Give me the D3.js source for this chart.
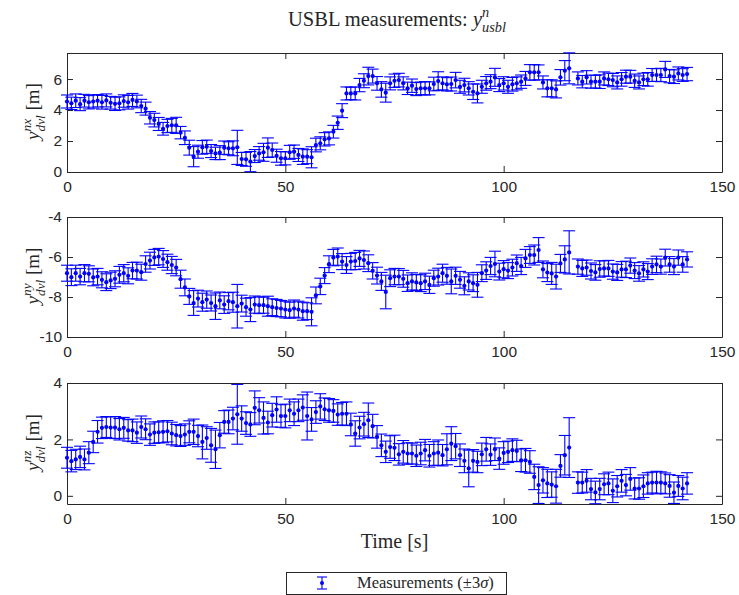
<!DOCTYPE html>
<html>
<head>
<meta charset="utf-8">
<script src="https://cdn.jsdelivr.net/npm/d3@7"></script>
<style>
body { margin: 0; background: #fff; }
svg { display: block; }
.tick text { font-family: "Liberation Sans", Arial, sans-serif; font-size: 15.5px; fill: #262626; }
.domain, .tick line { stroke: #262626; }
</style>
</head>
<body>
<svg id="chart" width="739" height="595"></svg>
<script>
// sample times [s] (no sample at 116 s)
var times = [
	0, 1, 2, 3, 4, 5, 6, 7, 8, 9, 10, 11, 12, 13, 14, 15, 16, 17, 18, 19,
	20, 21, 22, 23, 24, 25, 26, 27, 28, 29, 30, 31, 32, 33, 34, 35, 36, 37, 38, 39,
	40, 41, 42, 43, 44, 45, 46, 47, 48, 49, 50, 51, 52, 53, 54, 55, 56, 57, 58, 59,
	60, 61, 62, 63, 64, 65, 66, 67, 68, 69, 70, 71, 72, 73, 74, 75, 76, 77, 78, 79,
	80, 81, 82, 83, 84, 85, 86, 87, 88, 89, 90, 91, 92, 93, 94, 95, 96, 97, 98, 99,
	100, 101, 102, 103, 104, 105, 106, 107, 108, 109, 110, 111, 112, 113, 114, 115,
	117, 118, 119, 120, 121, 122, 123, 124, 125, 126, 127, 128, 129, 130, 131, 132,
	133, 134, 135, 136, 137, 138, 139, 140, 141, 142
];

var posNx = [
	4.55, 4.43, 4.60, 4.38, 4.60, 4.50, 4.55, 4.60, 4.50, 4.62,
	4.47, 4.40, 4.43, 4.58, 4.50, 4.65, 4.55, 4.26, 4.09, 3.50,
	3.35, 3.10, 2.79, 2.97, 3.01, 3.01, 2.54, 2.21, 1.57, 0.99,
	1.31, 1.59, 1.63, 1.35, 1.20, 1.25, 1.57, 1.53, 1.53, 1.59,
	0.84, 0.82, 0.67, 1.03, 1.20, 1.27, 1.57, 1.42, 1.05, 0.88,
	0.88, 1.27, 1.31, 1.10, 0.99, 0.99, 0.95, 1.74, 1.85, 2.11,
	2.17, 2.60, 3.18, 3.96, 5.07, 5.07, 5.07, 5.61, 5.89, 6.19,
	6.19, 5.72, 5.33, 5.12, 5.72, 5.89, 5.93, 5.72, 5.40, 5.57,
	5.35, 5.40, 5.40, 5.40, 5.68, 5.87, 5.72, 5.66, 5.68, 5.93,
	5.50, 5.61, 5.40, 5.18, 5.07, 5.50, 5.72, 5.83, 6.11, 5.61,
	5.72, 5.50, 5.66, 5.72, 5.83, 6.04, 6.43, 6.43, 6.43, 5.78,
	5.40, 5.40, 5.33, 6.11, 6.54, 6.69,
	6.04, 5.83, 6.11, 5.83, 5.83, 5.83, 6.04, 5.98, 5.93, 5.78,
	5.98, 6.15, 6.15, 5.89, 5.78, 5.98, 5.98, 6.26, 6.26, 6.26,
	6.62, 6.19, 6.15, 6.36, 6.26, 6.32
];
var errNx = [
	0.42, 0.40, 0.44, 0.42, 0.41, 0.43, 0.42, 0.40, 0.44, 0.42,
	0.41, 0.43, 0.42, 0.40, 0.44, 0.42, 0.41, 0.43, 0.42, 0.40,
	0.44, 0.42, 0.41, 0.43, 0.45, 0.52, 0.40, 0.44, 0.48, 0.65,
	0.42, 0.44, 0.43, 0.42, 0.40, 0.45, 0.43, 0.42, 0.48, 1.10,
	0.42, 0.45, 0.65, 0.42, 0.44, 0.58, 0.63, 0.45, 0.42, 0.44,
	0.42, 0.45, 0.43, 0.42, 0.50, 0.45, 0.68, 0.44, 0.42, 0.43,
	0.42, 0.41, 0.43, 0.45, 0.42, 0.40, 0.42, 0.43, 0.45, 0.57,
	0.45, 0.44, 0.50, 0.61, 0.42, 0.43, 0.44, 0.42, 0.40, 0.43,
	0.42, 0.41, 0.43, 0.42, 0.44, 0.60, 0.42, 0.43, 0.45, 0.50,
	0.42, 0.44, 0.43, 0.50, 0.61, 0.42, 0.44, 0.45, 0.58, 0.42,
	0.43, 0.42, 0.44, 0.42, 0.43, 0.45, 0.50, 0.50, 0.48, 0.42,
	0.55, 0.55, 0.55, 0.50, 0.65, 1.00,
	0.42, 0.40, 0.43, 0.42, 0.41, 0.44, 0.42, 0.40, 0.43, 0.42,
	0.44, 0.42, 0.41, 0.43, 0.42, 0.40, 0.44, 0.42, 0.41, 0.43,
	0.52, 0.43, 0.44, 0.42, 0.41, 0.43
];

var posNy = [
	-6.81, -7.01, -6.81, -6.98, -6.81, -6.84, -7.02, -6.98, -7.14, -7.26,
	-7.17, -7.09, -6.89, -6.81, -6.94, -6.68, -6.68, -6.76, -6.35, -6.18,
	-6.02, -5.98, -6.10, -6.26, -6.40, -6.53, -7.11, -7.52, -7.97, -8.30,
	-8.08, -8.26, -8.13, -8.30, -8.46, -8.17, -8.38, -8.21, -8.26, -8.46,
	-8.33, -8.51, -8.63, -8.38, -8.41, -8.41, -8.46, -8.51, -8.55, -8.58,
	-8.63, -8.66, -8.58, -8.63, -8.71, -8.71, -8.74, -7.92, -7.47, -6.93,
	-6.36, -6.03, -5.98, -6.23, -6.40, -6.23, -6.20, -6.07, -6.15, -6.31,
	-6.69, -6.93, -7.22, -7.75, -7.06, -6.98, -6.98, -7.09, -7.31, -7.22,
	-7.27, -7.31, -7.22, -7.39, -7.06, -6.98, -6.81, -6.94, -7.22, -6.94,
	-7.14, -7.44, -7.22, -7.31, -7.39, -6.81, -6.68, -6.45, -6.35, -6.73,
	-6.61, -6.68, -6.53, -6.31, -6.45, -6.07, -5.90, -5.90, -5.65, -6.62,
	-6.78, -6.82, -6.98, -6.32, -6.12, -5.77,
	-6.48, -6.57, -6.53, -6.70, -6.77, -6.60, -6.57, -6.57, -6.73, -6.77,
	-6.62, -6.62, -6.43, -6.68, -6.82, -6.62, -6.73, -6.48, -6.37, -6.48,
	-6.03, -6.37, -6.48, -6.03, -6.37, -6.12
];
var errNy = [
	0.40, 0.42, 0.40, 0.41, 0.43, 0.40, 0.42, 0.41, 0.40, 0.42,
	0.41, 0.40, 0.42, 0.43, 0.40, 0.41, 0.42, 0.40, 0.41, 0.42,
	0.40, 0.41, 0.42, 0.40, 0.43, 0.41, 0.45, 0.42, 0.40, 0.62,
	0.42, 0.45, 0.43, 0.40, 0.66, 0.42, 0.44, 0.43, 0.50, 1.09,
	0.42, 0.45, 0.60, 0.43, 0.42, 0.40, 0.50, 0.42, 0.43, 0.41,
	0.42, 0.40, 0.43, 0.42, 0.45, 0.42, 0.70, 0.42, 0.41, 0.40,
	0.42, 0.41, 0.43, 0.40, 0.42, 0.41, 0.43, 0.40, 0.45, 0.42,
	0.41, 0.42, 0.45, 0.84, 0.42, 0.41, 0.40, 0.42, 0.41, 0.43,
	0.40, 0.42, 0.41, 0.43, 0.40, 0.42, 0.45, 0.42, 0.62, 0.43,
	0.42, 0.45, 0.43, 0.42, 0.62, 0.42, 0.44, 0.43, 0.64, 0.42,
	0.43, 0.40, 0.42, 0.41, 0.43, 0.45, 0.42, 0.50, 0.62, 0.42,
	0.45, 0.55, 0.62, 0.45, 0.68, 1.08,
	0.38, 0.40, 0.38, 0.40, 0.39, 0.41, 0.38, 0.40, 0.38, 0.40,
	0.39, 0.41, 0.38, 0.40, 0.39, 0.38, 0.40, 0.39, 0.41, 0.38,
	0.42, 0.39, 0.40, 0.38, 0.39, 0.38
];

var posNz = [
	1.35, 1.23, 1.29, 1.38, 1.29, 1.53, 1.91, 2.27, 2.41, 2.44,
	2.42, 2.42, 2.36, 2.41, 2.32, 2.32, 2.24, 2.44, 2.36, 2.17,
	2.24, 2.25, 2.27, 2.29, 2.21, 2.15, 2.12, 2.17, 2.27, 2.27,
	2.12, 1.91, 2.05, 1.79, 1.65, 2.15, 2.62, 2.62, 2.74, 2.89,
	2.74, 2.58, 2.53, 3.12, 3.03, 2.76, 2.60, 2.86, 3.06, 2.83,
	2.83, 3.03, 2.91, 3.03, 3.13, 2.83, 2.71, 2.97, 3.17, 3.07,
	3.03, 3.01, 2.88, 2.91, 2.91, 2.53, 2.21, 2.42, 2.54, 2.68,
	2.47, 2.09, 1.79, 1.56, 1.73, 1.70, 1.47, 1.56, 1.50, 1.50,
	1.42, 1.50, 1.62, 1.42, 1.50, 1.53, 1.44, 1.65, 1.85, 1.76,
	1.44, 1.24, 0.97, 1.24, 1.20, 1.47, 1.65, 1.46, 1.65, 1.32,
	1.52, 1.56, 1.62, 1.59, 1.26, 1.26, 1.20, 0.67, 0.38, 0.55,
	0.44, 0.40, 0.34, 1.06, 1.44, 1.71,
	0.47, 0.47, 0.53, 0.24, 0.12, 0.24, 0.41, 0.44, 0.18, 0.34,
	0.53, 0.38, 0.60, 0.26, 0.26, 0.34, 0.44, 0.47, 0.47, 0.47,
	0.44, 0.35, 0.11, 0.35, 0.26, 0.44
];
var errNz = [
	0.37, 0.38, 0.36, 0.38, 0.37, 0.39, 0.38, 0.40, 0.38, 0.37,
	0.38, 0.39, 0.38, 0.37, 0.38, 0.40, 0.38, 0.39, 0.37, 0.38,
	0.38, 0.37, 0.39, 0.38, 0.40, 0.38, 0.37, 0.38, 0.39, 0.45,
	0.38, 0.60, 0.40, 0.60, 0.68, 0.45, 0.40, 0.42, 0.40, 1.06,
	0.45, 0.40, 0.42, 0.60, 0.45, 0.57, 0.40, 0.42, 0.45, 0.40,
	0.42, 0.40, 0.42, 0.40, 0.45, 0.85, 0.42, 0.40, 0.45, 0.40,
	0.42, 0.40, 0.38, 0.40, 0.42, 0.40, 0.45, 0.40, 0.42, 0.61,
	0.42, 0.40, 0.40, 0.38, 0.40, 0.45, 0.38, 0.40, 0.38, 0.37,
	0.38, 0.40, 0.38, 0.40, 0.42, 0.45, 0.38, 0.55, 0.60, 0.45,
	0.40, 0.42, 0.65, 0.40, 0.38, 0.40, 0.42, 0.38, 0.40, 0.38,
	0.40, 0.38, 0.40, 0.38, 0.40, 0.42, 0.40, 0.45, 0.65, 0.45,
	0.50, 0.45, 0.60, 0.40, 0.70, 1.06,
	0.38, 0.37, 0.40, 0.38, 0.40, 0.38, 0.37, 0.40, 0.42, 0.38,
	0.40, 0.38, 0.40, 0.37, 0.38, 0.40, 0.38, 0.37, 0.40, 0.38,
	0.37, 0.40, 0.38, 0.37, 0.40, 0.38
];

var xTicks = [0, 50, 100, 150];
var nxTicks = [0, 2, 4, 6];
var nyTicks = [-10, -8, -6, -4];
var nzTicks = [0, 2, 4];

var serif = '"Liberation Serif", "Times New Roman", serif';
var ink = '#262626';
var blue = '#0000ff';

var svg = d3.select('#chart');
var x = d3.scaleLinear().domain([0, 150]).range([67, 722]);

// italic symbol with stacked super- and subscript
function addScript(txt, base, sup, sub, size) {
	txt.append('tspan').attr('font-style', 'italic').text(base);
	var s1 = txt.append('tspan').attr('font-style', 'italic')
		.attr('font-size', size * 0.7).attr('dy', -size * 0.42).text(sup);
	var w1 = s1.node().getComputedTextLength();
	var s2 = txt.append('tspan').attr('font-style', 'italic')
		.attr('font-size', size * 0.7).attr('dx', -w1).attr('dy', size * 0.72).text(sub);
	var w2 = s2.node().getComputedTextLength();
	return {dx: Math.max(0, w1 - w2), dy: -size * 0.30};
}

var panels = [
	{vals: posNx, errs: errNx, domain: [0, 7.68], ticks: nxTicks, top: 53, bottom: 172, sup: 'nx'},
	{vals: posNy, errs: errNy, domain: [-10, -4], ticks: nyTicks, top: 217, bottom: 337, sup: 'ny'},
	{vals: posNz, errs: errNz, domain: [-0.29, 4.0], ticks: nzTicks, top: 383, bottom: 504, sup: 'nz'}
];

panels.forEach(function(p) {
	var y = d3.scaleLinear().domain(p.domain).range([p.bottom, p.top]);
	var g = svg.append('g');

	g.append('g')
		.attr('transform', 'translate(0,' + p.bottom + ')')
		.call(d3.axisBottom(x).tickValues(xTicks).tickSize(-6).tickSizeOuter(0).tickPadding(9)
			.tickFormat(function(d) { return String(d); }));
	g.append('g')
		.attr('transform', 'translate(0,' + p.top + ')')
		.call(d3.axisTop(x).tickValues(xTicks).tickSize(-6).tickSizeOuter(0).tickFormat(''));
	g.append('g')
		.attr('transform', 'translate(67,0)')
		.call(d3.axisLeft(y).tickValues(p.ticks).tickSize(-6).tickSizeOuter(0).tickPadding(5)
			.tickFormat(function(d) { return String(d); }));
	g.append('g')
		.attr('transform', 'translate(722,0)')
		.call(d3.axisRight(y).tickValues(p.ticks).tickSize(-6).tickSizeOuter(0).tickFormat(''));

	var pts = times.map(function(t, i) {
		return {t: t, v: p.vals[i], e: p.errs[i]};
	});

	var bars = g.append('g')
		.attr('stroke', blue)
		.attr('stroke-width', 1.1)
		.selectAll('g')
		.data(pts)
		.enter()
			.append('g');
	bars.append('line')
		.attr('x1', function(d) { return x(d.t); })
		.attr('x2', function(d) { return x(d.t); })
		.attr('y1', function(d) { return y(d.v - d.e); })
		.attr('y2', function(d) { return y(d.v + d.e); });
	bars.append('line')
		.attr('x1', function(d) { return x(d.t) - 6; })
		.attr('x2', function(d) { return x(d.t) + 6; })
		.attr('y1', function(d) { return y(d.v + d.e); })
		.attr('y2', function(d) { return y(d.v + d.e); });
	bars.append('line')
		.attr('x1', function(d) { return x(d.t) - 6; })
		.attr('x2', function(d) { return x(d.t) + 6; })
		.attr('y1', function(d) { return y(d.v - d.e); })
		.attr('y2', function(d) { return y(d.v - d.e); });

	g.append('g')
		.attr('fill', blue)
		.selectAll('circle')
		.data(pts)
		.enter()
			.append('circle')
			.attr('cx', function(d) { return x(d.t); })
			.attr('cy', function(d) { return y(d.v); })
			.attr('r', 2.1);

	// y label
	var yl = svg.append('text')
		.attr('font-family', serif)
		.attr('font-size', 19)
		.attr('fill', ink);
	var r = addScript(yl, 'y', p.sup, 'dvl', 19);
	yl.append('tspan').attr('dx', r.dx).attr('dy', r.dy).text('\u00a0[m]');
	var bb = yl.node().getBBox();
	var cy = (p.top + p.bottom) / 2;
	yl.attr('transform', 'translate(39,' + (cy + bb.x + bb.width / 2) + ') rotate(-90)');
});

// title
var title = svg.append('text')
	.attr('font-family', serif)
	.attr('font-size', 20.5)
	.attr('fill', ink);
title.append('tspan').text('USBL measurements:\u00a0');
addScript(title, 'y', 'n', 'usbl', 20.5);
var tb = title.node().getBBox();
title.attr('transform', 'translate(' + (397 - tb.width / 2) + ',26)');

// x label
svg.append('text')
	.attr('x', 394.5)
	.attr('y', 548)
	.attr('text-anchor', 'middle')
	.attr('font-family', serif)
	.attr('font-size', 20)
	.attr('fill', ink)
	.text('Time [s]');

// legend
var lg = svg.append('g');
lg.append('rect')
	.attr('x', 286.5).attr('y', 572.5)
	.attr('width', 220).attr('height', 22)
	.attr('fill', '#fff')
	.attr('stroke', ink)
	.attr('stroke-width', 1);
var ic = lg.append('g').attr('stroke', blue).attr('stroke-width', 1.1);
ic.append('line').attr('x1', 322).attr('x2', 322).attr('y1', 577).attr('y2', 589);
ic.append('line').attr('x1', 317).attr('x2', 327).attr('y1', 577).attr('y2', 577);
ic.append('line').attr('x1', 317).attr('x2', 327).attr('y1', 589).attr('y2', 589);
lg.append('circle').attr('cx', 322).attr('cy', 583).attr('r', 2).attr('fill', blue);
var lt = lg.append('text')
	.attr('x', 357).attr('y', 588)
	.attr('font-family', serif)
	.attr('font-size', 16.5)
	.attr('fill', ink);
lt.append('tspan').text('Measurements (\u00b13');
lt.append('tspan').attr('font-style', 'italic').text('\u03c3');
lt.append('tspan').text(')');
</script>
</body>
</html>
